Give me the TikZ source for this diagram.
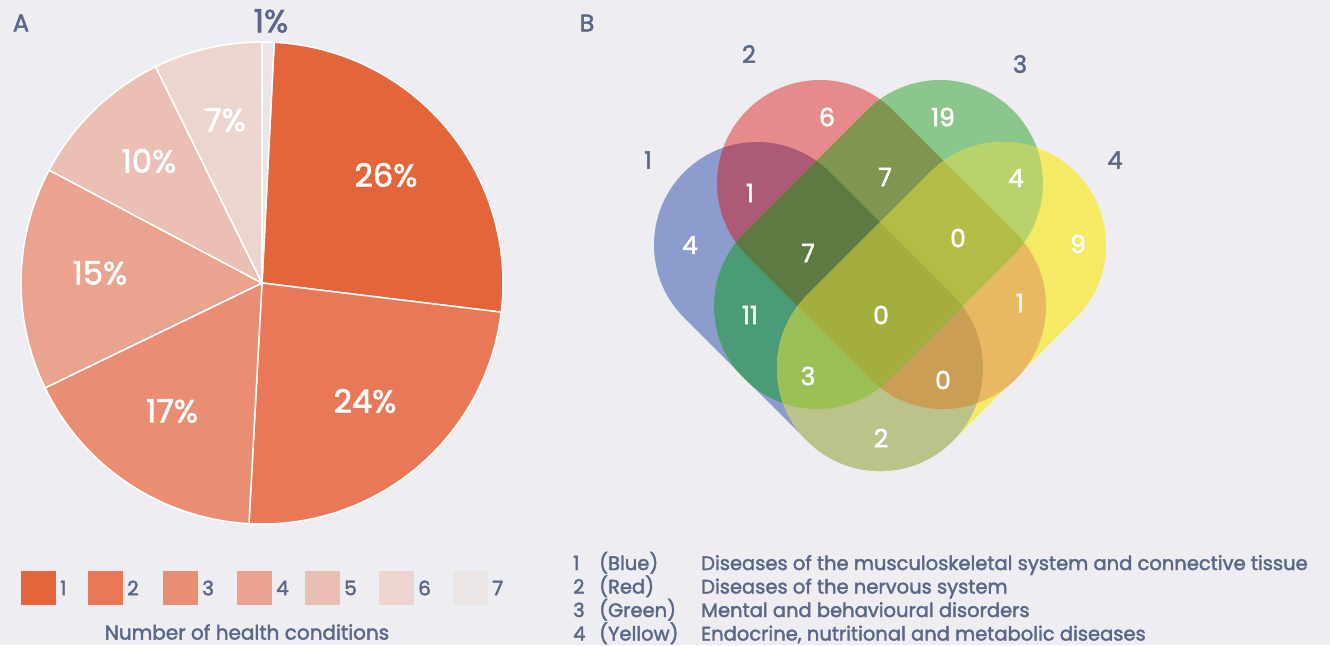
\documentclass[tikz,border=0pt]{standalone}
\usepackage{fontspec}
\setmainfont{Poppins}[FakeBold=2]

\definecolor{bg}{HTML}{EEEDF2}
\definecolor{ink}{HTML}{5A6786}
\definecolor{cond1}{HTML}{E5653B}
\definecolor{cond2}{HTML}{E97859}
\definecolor{cond3}{HTML}{E98E72}
\definecolor{cond4}{HTML}{EAA38E}
\definecolor{cond5}{HTML}{EBBFB3}
\definecolor{cond6}{HTML}{EDD5CF}
\definecolor{cond7}{HTML}{EBE5E6}
% venn regions (1 blue, 2 red, 3 green, 4 yellow)
\definecolor{v1}{HTML}{8C9DCD}
\definecolor{v2}{HTML}{E58B8B}
\definecolor{v3}{HTML}{8BC68B}
\definecolor{v4}{HTML}{F5EA63}
\definecolor{v12}{HTML}{AD5A76}
\definecolor{v13}{HTML}{4A9B76}
\definecolor{v14}{HTML}{BAC38A}
\definecolor{v23}{HTML}{7F9550}
\definecolor{v24}{HTML}{E8B863}
\definecolor{v34}{HTML}{B9D36A}
\definecolor{v123}{HTML}{5E7A43}
\definecolor{v124}{HTML}{CA9E55}
\definecolor{v134}{HTML}{9BC156}
\definecolor{v234}{HTML}{B3BC45}
\definecolor{v1234}{HTML}{A3AE3F}

\tikzstyle{panel} = [text=ink, font=\fontsize{24}{28}\selectfont]
\tikzstyle{pctlabel} = [text=white, font=\fontsize{32}{38}\selectfont]
\tikzstyle{vennnum} = [text=white, font=\fontsize{25}{30}\selectfont]
\tikzstyle{setlabel} = [text=ink, font=\fontsize{24}{28}\selectfont]
\tikzstyle{legnum} = [text=ink, font=\fontsize{20}{24}\selectfont, anchor=west, inner sep=0pt]
\tikzstyle{legtext} = [text=ink, font=\fontsize{19.5}{23}\selectfont, anchor=base west, inner sep=0pt]

% capsule: upper centre, axis angle
\newcommand{\capsule}[2]{(#1) ++(#2+90:103) arc[start angle=#2+90, end angle=#2+270, radius=103] -- ++(#2:174) arc[start angle=#2+270, end angle=#2+450, radius=103] -- cycle}
\def\setblue{\capsule{757,-245}{-45}}
\def\setred{\capsule{820,-183}{-45}}
\def\setgreen{\capsule{940,-183}{225}}
\def\setyellow{\capsule{1003,-245}{225}}

\begin{document}
\begin{tikzpicture}[x=1pt,y=1pt]
\fill[bg] (0,0) rectangle (1330,-645);
\useasboundingbox (0,0) rectangle (1330,-645);

\node (labA) [panel] at (21,-23) {A};
\node (labB) [panel] at (587,-23) {B};

% pie chart
\coordinate (pie) at (262,-283);
\foreach \a/\b/\col in {87.1/-6.95/cond1, -6.95/-93.1/cond2, -93.1/-154.2/cond3, -154.2/-207.94/cond4, -207.94/-243.8/cond5, -243.8/-270/cond6, -270/-272.9/cond7}
	\filldraw[fill=\col, draw=white, line width=1.5pt, line join=round] (pie) -- ++(\a:241) arc[start angle=\a, end angle=\b, radius=241] -- cycle;

\node (p26) [pctlabel] at (386,-175) {26\%};
\node (p24) [pctlabel] at (365,-401) {24\%};
\node (p17) [pctlabel] at (172,-411) {17\%};
\node (p15) [pctlabel] at (100,-273) {15\%};
\node (p10) [pctlabel] at (149,-161) {10\%};
\node (p7) [pctlabel] at (225,-120) {7\%};
\node (p1) [pctlabel, text=ink] at (271,-21) {1\%};

% legend A
\foreach \i/\x in {1/21, 2/88, 3/163, 4/237, 5/305, 6/379, 7/453} {
	\fill[cond\i] (\x,-571) rectangle ++(35,-34);
	\node (leg\i) [legnum] at (\x+39,-588) {\i};
}
\node (legtitle) [text=ink, font=\fontsize{20}{24}\selectfont] at (247,-632) {Number of health conditions};

% venn diagram
\fill[v1] \setblue;
\fill[v2] \setred;
\fill[v3] \setgreen;
\fill[v4] \setyellow;
\begin{scope} \clip \setblue; \fill[v12] \setred; \end{scope}
\begin{scope} \clip \setblue; \fill[v13] \setgreen; \end{scope}
\begin{scope} \clip \setblue; \fill[v14] \setyellow; \end{scope}
\begin{scope} \clip \setred; \fill[v23] \setgreen; \end{scope}
\begin{scope} \clip \setred; \fill[v24] \setyellow; \end{scope}
\begin{scope} \clip \setgreen; \fill[v34] \setyellow; \end{scope}
\begin{scope} \clip \setblue; \clip \setred; \fill[v123] \setgreen; \end{scope}
\begin{scope} \clip \setblue; \clip \setred; \fill[v124] \setyellow; \end{scope}
\begin{scope} \clip \setblue; \clip \setgreen; \fill[v134] \setyellow; \end{scope}
\begin{scope} \clip \setred; \clip \setgreen; \fill[v234] \setyellow; \end{scope}
\begin{scope} \clip \setblue; \clip \setred; \clip \setgreen; \fill[v1234] \setyellow; \end{scope}

\node (n1) [vennnum] at (690,-245) {4};
\node (n2) [vennnum] at (827,-117) {6};
\node (n3) [vennnum] at (943,-117) {19};
\node (n4) [vennnum] at (1078,-244) {9};
\node (n12) [vennnum] at (750,-193) {1};
\node (n23) [vennnum] at (885,-177) {7};
\node (n34) [vennnum] at (1016,-178) {4};
\node (n123) [vennnum] at (808,-253) {7};
\node (n234) [vennnum] at (958,-238) {0};
\node (n13) [vennnum] at (750,-315) {11};
\node (n1234) [vennnum] at (881,-315) {0};
\node (n24) [vennnum] at (1020,-303) {1};
\node (n134) [vennnum] at (808,-376) {3};
\node (n124) [vennnum] at (943,-380) {0};
\node (n14) [vennnum] at (881,-438) {2};

\node (s1) [setlabel] at (648,-160) {1};
\node (s2) [setlabel] at (749,-54) {2};
\node (s3) [setlabel] at (1020,-64) {3};
\node (s4) [setlabel] at (1115,-160) {4};

% legend B
\node (k1) [legtext] at (573,-570) {1};
\node (c1) [legtext] at (599,-570) {(Blue)};
\node (d1) [legtext] at (701,-570) {Diseases of the musculoskeletal system and connective tissue};
\node (k2) [legtext] at (573,-593.5) {2};
\node (c2) [legtext] at (599,-593.5) {(Red)};
\node (d2) [legtext] at (701,-593.5) {Diseases of the nervous system};
\node (k3) [legtext] at (573,-617) {3};
\node (c3) [legtext] at (599,-617) {(Green)};
\node (d3) [legtext] at (701,-617) {Mental and behavioural disorders};
\node (k4) [legtext] at (573,-640.5) {4};
\node (c4) [legtext] at (599,-640.5) {(Yellow)};
\node (d4) [legtext] at (701,-640.5) {Endocrine, nutritional and metabolic diseases};
\end{tikzpicture}
\end{document}
